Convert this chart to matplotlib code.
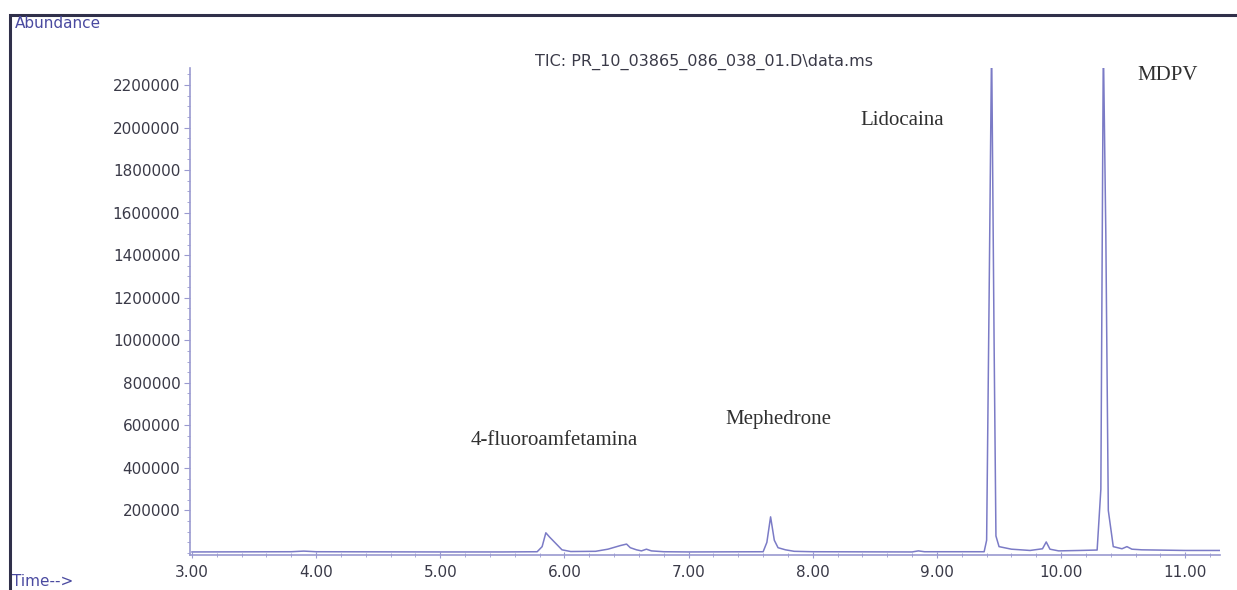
import matplotlib
matplotlib.use("Agg")
import matplotlib.pyplot as plt
from matplotlib.ticker import MultipleLocator, FixedLocator
from matplotlib.patches import Rectangle

# retention time (min) and abundance
time = [3.00, 3.80, 3.90, 4.00, 5.00, 5.50, 5.78, 5.82, 5.85, 5.88, 5.93, 5.98,
        6.05, 6.25, 6.35, 6.45, 6.50, 6.53, 6.58, 6.62, 6.66, 6.70, 6.80, 7.00,
        7.60, 7.63, 7.66, 7.69, 7.72, 7.78, 7.85, 8.00, 8.80, 8.85, 8.90, 9.38,
        9.40, 9.42, 9.44, 9.46, 9.475, 9.50, 9.60, 9.75, 9.85, 9.88, 9.91, 9.98,
        10.15, 10.29, 10.32, 10.34, 10.36, 10.38, 10.42, 10.49, 10.53, 10.57,
        10.65, 11.00, 11.28]
abundance = [5000, 6000, 9000, 6000, 5000, 5000, 6000, 30000, 95000, 75000, 45000, 15000,
             7000, 8000, 18000, 35000, 42000, 25000, 15000, 10000, 18000, 10000, 6000, 5000,
             6000, 50000, 170000, 60000, 25000, 15000, 8000, 6000, 5000, 10000, 6000, 6000,
             60000, 1200000, 2400000, 1000000, 80000, 30000, 18000, 12000, 20000, 52000, 18000, 10000,
             12000, 14000, 300000, 2400000, 1500000, 200000, 30000, 20000, 30000, 18000,
             15000, 12000, 12000]

peak_names = ["4-fluoroamfetamina", "Mephedrone", "Lidocaina", "MDPV"]
label_x = [5.915, 7.72, 8.72, 10.86]
label_y = [531000, 630000, 2031000, 2243000]

y_ticks = [200000, 400000, 600000, 800000, 1000000, 1200000, 1400000,
           1600000, 1800000, 2000000, 2200000]
x_ticks = [3, 4, 5, 6, 7, 8, 9, 10, 11]

trace_col = "#7b7bc6"
axis_col = "#9a9ad0"
text_col = "#3a3a48"
head_col = "#4a4aa0"

fig = plt.figure(figsize=(12.37, 5.90), dpi=100)
ax = fig.add_axes([0.1536, 0.0593, 0.8327, 0.8254])

ax.plot(time, abundance, color=trace_col, lw=1.1)

ax.set_xlim(2.984, 11.28)
ax.set_ylim(-9400, 2280000)

ax.xaxis.set_major_locator(FixedLocator(x_ticks))
ax.xaxis.set_minor_locator(MultipleLocator(0.2))
ax.yaxis.set_major_locator(FixedLocator(y_ticks))
ax.yaxis.set_minor_locator(MultipleLocator(50000))
ax.set_xticklabels(["{:.2f}".format(t) for t in x_ticks])
ax.set_yticklabels([str(v) for v in y_ticks])

for side in ["top", "right"]:
    ax.spines[side].set_visible(False)
for side in ["left", "bottom"]:
    ax.spines[side].set_color(axis_col)
    ax.spines[side].set_linewidth(1.2)

ax.tick_params(axis="both", which="both", colors=axis_col, labelcolor=text_col,
               labelsize=11)
ax.tick_params(axis="y", which="major", direction="out", length=4, pad=3)
ax.tick_params(axis="y", which="minor", direction="out", length=2)
ax.tick_params(axis="x", which="major", direction="inout", length=5, pad=5)
ax.tick_params(axis="x", which="minor", direction="inout", length=3)

for name, lx, ly in zip(peak_names, label_x, label_y):
    ax.text(lx, ly, name, ha="center", va="center", fontsize=15,
            family="Liberation Serif", color="#303030")

fig.text(0.569, 0.895, "TIC: PR_10_03865_086_038_01.D\\data.ms", ha="center",
         va="center", fontsize=11.5, color=text_col)
fig.text(0.012, 0.961, "Abundance", ha="left", va="center", fontsize=11,
         color=head_col)
fig.text(0.010, 0.001, "Time-->", ha="left", va="bottom", fontsize=11,
         color=head_col)

# outer frame of the report page
fig.add_artist(Rectangle((0.0081, -0.2), 1.2, 0.9746 + 0.2, transform=fig.transFigure,
                         fill=False, edgecolor="#30304a", lw=2.2))

fig.savefig("out.png", dpi=100)
